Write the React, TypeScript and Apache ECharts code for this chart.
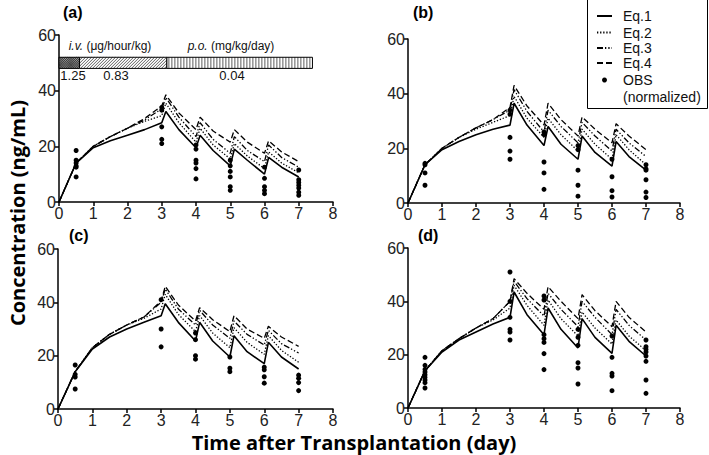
import React, { useEffect, useRef } from "react";
import * as echarts from "echarts";

// Model time grid (days)
const modelT = [0, 0.5, 1, 1.5, 2, 2.5, 3, 3.12, 3.5, 4, 4.12, 4.5, 5, 5.12, 5.5, 6, 6.12, 6.5, 7];

// Panel (a)
const eq1A = [0, 14, 19.5, 22, 24, 26, 28.5, 32.5, 26, 19.5, 24, 18.5, 13, 19, 15, 10, 16, 12.5, 9];
const eq2A = [0, 14, 20, 23.5, 26.5, 29, 31, 35.5, 28.5, 21.5, 26.5, 20.5, 15.5, 21, 16.5, 12, 18, 14, 10.5];
const eq3A = [0, 14, 20, 23.5, 26.5, 29.5, 33.5, 37.5, 30.5, 23.5, 28.5, 22.5, 17.5, 23.5, 18.5, 14.5, 20.5, 16, 12.5];
const eq4A = [0, 14, 20, 23.5, 26.5, 30, 34.5, 38.5, 32, 26, 30.5, 25.5, 21.5, 26, 21.5, 17.5, 22, 18, 14.5];
// Panel (b)
const eq1B = [0, 14, 19.5, 22.5, 25, 27, 28.5, 36.5, 28.5, 21, 28, 21.5, 16, 24.5, 18.5, 13.5, 22.5, 17, 12];
const eq2B = [0, 14, 20, 24, 27, 29.5, 32, 39, 31, 24, 31, 25, 19, 27, 21.5, 16, 25, 19.5, 14];
const eq3B = [0, 14, 20, 24, 27.5, 30.5, 34, 41.5, 33.5, 26, 34, 28, 22, 29.5, 24.5, 19, 27, 22, 17];
const eq4B = [0, 14, 20, 24, 27.5, 30.5, 35, 43, 35.5, 28.5, 36.5, 30.5, 24.5, 31.5, 27, 22, 29, 24.5, 19.5];
// Panel (c)
const eq1C = [0, 14, 22.5, 27, 30, 32.5, 35, 39.5, 32.5, 25.5, 32.5, 25.5, 19.5, 27.5, 21.5, 17, 25, 19.5, 15];
const eq2C = [0, 14, 23, 28, 31.5, 34, 37.5, 43, 35.5, 29, 35, 28.5, 23, 30.5, 25, 20.5, 27.5, 22, 17.5];
const eq3C = [0, 14, 23, 28, 31.5, 34.5, 40, 45, 37.5, 31.5, 37, 31.5, 26.5, 33, 28, 24, 29.5, 24.5, 21];
const eq4C = [0, 14, 23, 28, 31.5, 34.5, 40.5, 46, 39, 33, 38, 33.5, 29, 35, 30, 26.5, 31, 27, 23.5];
// Panel (d)
const eq1D = [0, 14, 21, 25.5, 28.5, 31.5, 34, 43.5, 35, 27.5, 37.5, 29.5, 22.5, 33.5, 26.5, 20.5, 31, 25, 19.5];
const eq2D = [0, 14, 21.5, 26, 30, 33, 37.5, 46, 38.5, 31, 40.5, 33.5, 27, 36, 30, 24, 33, 27, 21.5];
const eq3D = [0, 14, 21.5, 26, 30, 33.5, 40, 47.5, 41, 34.5, 43, 37, 30.5, 40, 34, 27.5, 37, 31, 25.5];
const eq4D = [0, 14, 21.5, 26, 30, 33.5, 40, 48.5, 43, 37, 45.5, 40, 33.5, 42.5, 36.5, 30.5, 40, 34, 28.5];

// Observations (normalized), grouped by sampling day
const obsTimes = [0.5, 3, 4, 5, 6, 7];
const obsA = [[18.5, 15, 14, 13, 12.5, 9], [34, 33, 27, 22.5, 21], [20.5, 19, 15, 14, 12, 8.3], [15, 13, 11, 9, 5.5, 4.2], [12.5, 8.5, 5.5, 4.2, 3], [11.5, 8, 7, 6, 5, 3.5, 2.4]];
const obsB = [[14.5, 14, 11, 6.5], [34, 32.5, 24, 19, 16], [26, 25, 15, 11, 5], [21, 19.5, 12, 6.5, 2.5], [16, 9.6, 4.5, 2.2], [14, 12.5, 12, 8.5, 4, 2]];
const obsC = [[16.5, 13, 12, 7.5], [41, 30, 23.3], [28.5, 26, 20, 18.7], [19.5, 15.3, 14], [15.7, 14.7, 12.1, 9.7], [12.7, 11.5, 9.9, 6.9]];
const obsD = [[19, 16, 14.5, 13.5, 12.5, 11.5, 10.5, 9.5, 7.5], [51, 40, 34, 29.5, 28.5, 25.5], [42, 40.5, 27.5, 26, 24.6, 20.4, 14.4], [29.5, 26.5, 23.5, 17, 15, 9], [27, 19, 13, 12, 6.5], [25.5, 23, 22, 21, 19.5, 17.5, 10.5, 5.5]];

// Dosing regimen bar (panel a)
const doseStart = [0, 0.6, 3.15];
const doseEnd = [0.6, 3.15, 7.4];
const dosePattern = [0, 1, 2];
const doseLabels = ["1.25", "0.83", "0.04"];

const xTicks = [0, 1, 2, 3, 4, 5, 6, 7, 8];
const yTicks = [0, 20, 40, 60];
const eqNames = ["Eq.1", "Eq.2", "Eq.3", "Eq.4"];
const panelTitles = ["(a)", "(b)", "(c)", "(d)"];

const panels = [
  { eq: [eq1A, eq2A, eq3A, eq4A], obs: obsA },
  { eq: [eq1B, eq2B, eq3B, eq4B], obs: obsB },
  { eq: [eq1C, eq2C, eq3C, eq4C], obs: obsC },
  { eq: [eq1D, eq2D, eq3D, eq4D], obs: obsD },
];

const gridBoxes = [
  { left: 59, top: 35, width: 274, height: 167 },
  { left: 408, top: 39, width: 272, height: 164 },
  { left: 58, top: 249, width: 275, height: 160 },
  { left: 408, top: 248, width: 272, height: 160 },
];

const dashTypes: any[] = ["solid", [1.3, 1.8], [6, 2, 1.3, 2, 1.3, 2], [6, 3]];
const lineWidths = [1.6, 1.3, 1.3, 1.3];
const TICK_FONT = "'Liberation Sans', Arial, sans-serif";
const TITLE_FONT = "'Open Sans', 'Noto Sans', sans-serif";

function buildOption() {
  const grid = gridBoxes.map((g) => ({ ...g, containLabel: false }));
  const axisCommon = {
    axisLine: { show: true, lineStyle: { color: "#000", width: 1.5 } },
    axisTick: { show: true, inside: false, length: 4, lineStyle: { color: "#000", width: 1.5 } },
    splitLine: { show: false },
    axisLabel: { color: "#222", fontSize: 16, fontFamily: TICK_FONT, margin: 3 },
  };
  const xAxis = gridBoxes.map((_, i) => ({
    ...axisCommon,
    type: "value",
    gridIndex: i,
    min: xTicks[0],
    max: xTicks[xTicks.length - 1],
    interval: 1,
  }));
  const yAxis = gridBoxes.map((_, i) => ({
    ...axisCommon,
    type: "value",
    gridIndex: i,
    min: yTicks[0],
    max: yTicks[yTicks.length - 1],
    interval: 20,
  }));

  const series: any[] = [];
  panels.forEach((p, pi) => {
    p.eq.forEach((vals, ei) => {
      series.push({
        type: "line",
        name: eqNames[ei],
        xAxisIndex: pi,
        yAxisIndex: pi,
        symbol: "none",
        data: modelT.map((t, k) => [t, vals[k]]),
        lineStyle: { color: "#000", width: lineWidths[ei], type: dashTypes[ei] },
        z: 3,
      });
    });
    const pts: number[][] = [];
    p.obs.forEach((arr, ti) => arr.forEach((v) => pts.push([obsTimes[ti], v])));
    series.push({
      type: "scatter",
      name: "OBS (normalized)",
      xAxisIndex: pi,
      yAxisIndex: pi,
      symbol: "circle",
      symbolSize: 5,
      itemStyle: { color: "#000", opacity: 1 },
      data: pts,
      z: 4,
    });
  });

  // dosing bar in panel (a)
  series.push({
    type: "custom",
    xAxisIndex: 0,
    yAxisIndex: 0,
    data: doseStart.map((s, i) => [s, doseEnd[i], dosePattern[i]]),
    encode: { x: [0, 1] },
    silent: true,
    z: 5,
    renderItem: (params: any, api: any) => {
      const s = api.value(0);
      const e = api.value(1);
      const kind = api.value(2);
      const tl = api.coord([s, 52]);
      const br = api.coord([e, 48]);
      const x0 = tl[0], y0 = tl[1], x1 = br[0], y1 = br[1];
      const w = x1 - x0, h = y1 - y0;
      const children: any[] = [];
      children.push({
        type: "rect",
        shape: { x: x0, y: y0, width: w, height: h },
        style: { fill: kind === 0 ? "#9a9a9a" : "#fff" },
      });
      const ls = { stroke: "#333", lineWidth: 0.8 };
      if (kind === 2) {
        for (let x = x0 + 2; x < x1 - 0.5; x += 3) {
          children.push({ type: "line", shape: { x1: x, y1: y0, x2: x, y2: y1 }, style: ls });
        }
      } else {
        const sp = kind === 0 ? 2.2 : 3;
        const dirs = kind === 0 ? [1, -1] : [1];
        dirs.forEach((d) => {
          for (let u = x0 - h; u < x1; u += sp) {
            const ca = Math.max(u, x0);
            const cb = Math.min(u + h, x1);
            if (cb <= ca) continue;
            const yAt = (x: number) => (d === 1 ? y1 - (x - u) : y0 + (x - u));
            children.push({ type: "line", shape: { x1: ca, y1: yAt(ca), x2: cb, y2: yAt(cb) }, style: ls });
          }
        });
      }
      children.push({
        type: "rect",
        shape: { x: x0, y: y0, width: w, height: h },
        style: { fill: "none", stroke: "#000", lineWidth: 1 },
      });
      return { type: "group", children };
    },
  });

  const graphic: any[] = [];
  const titlePos = [
    [63, 12],
    [413, 12],
    [69, 235],
    [418, 235],
  ];
  panelTitles.forEach((t, i) => {
    graphic.push({
      type: "text",
      x: titlePos[i][0],
      y: titlePos[i][1],
      style: { text: t, fontSize: 16, fontWeight: "bold", fontFamily: TICK_FONT, fill: "#000", verticalAlign: "middle" },
    });
  });
  // dose regimen labels
  const richIt = { it: { fontStyle: "italic", fontSize: 12, fontFamily: TICK_FONT, fill: "#111" } };
  graphic.push({
    type: "text",
    x: 110,
    y: 46,
    style: {
      text: "{it|i.v.} (μg/hour/kg)",
      textAlign: "center",
      verticalAlign: "middle",
      fontSize: 12,
      fontFamily: TICK_FONT,
      fill: "#111",
      rich: richIt,
    },
  });
  graphic.push({
    type: "text",
    x: 231,
    y: 46,
    style: {
      text: "{it|p.o.} (mg/kg/day)",
      textAlign: "center",
      verticalAlign: "middle",
      fontSize: 12,
      fontFamily: TICK_FONT,
      fill: "#111",
      rich: richIt,
    },
  });
  const doseLabelX = [73, 116, 232];
  doseLabels.forEach((l, i) => {
    graphic.push({
      type: "text",
      x: doseLabelX[i],
      y: 75,
      style: { text: l, textAlign: "center", verticalAlign: "middle", fontSize: 13, fontFamily: TICK_FONT, fill: "#111" },
    });
  });

  // legend box
  graphic.push({
    type: "rect",
    shape: { x: 587.5, y: -0.5, width: 120, height: 109 },
    style: { fill: "#fff", stroke: "#000", lineWidth: 1 },
    z: 10,
  });
  const legY = [16, 32.5, 48, 63];
  eqNames.forEach((n, i) => {
    graphic.push({
      type: "line",
      shape: { x1: 597, y1: legY[i], x2: 612, y2: legY[i] },
      style: { stroke: "#000", lineWidth: 2, lineDash: dashTypes[i] === "solid" ? null : dashTypes[i] },
      z: 11,
    });
    graphic.push({
      type: "text",
      x: 623,
      y: legY[i],
      style: { text: n, fontSize: 14, fontFamily: TICK_FONT, fill: "#111", verticalAlign: "middle" },
      z: 11,
    });
  });
  graphic.push({ type: "circle", shape: { cx: 604.5, cy: 80, r: 2.5 }, style: { fill: "#000" }, z: 11 });
  graphic.push({
    type: "text",
    x: 623,
    y: 80,
    style: { text: "OBS", fontSize: 14, fontFamily: TICK_FONT, fill: "#111", verticalAlign: "middle" },
    z: 11,
  });
  graphic.push({
    type: "text",
    x: 623,
    y: 96.5,
    style: { text: "(normalized)", fontSize: 14, fontFamily: TICK_FONT, fill: "#111", verticalAlign: "middle" },
    z: 11,
  });

  // axis titles
  graphic.push({
    type: "text",
    x: 17,
    y: 213,
    rotation: Math.PI / 2,
    style: {
      text: "Concentration (ng/mL)",
      fontSize: 20,
      fontWeight: "bold",
      fontFamily: TITLE_FONT,
      fill: "#000",
      textAlign: "center",
      verticalAlign: "middle",
    },
  });
  graphic.push({
    type: "text",
    x: 354,
    y: 442,
    style: {
      text: "Time after Transplantation (day)",
      fontSize: 20,
      fontWeight: "bold",
      fontFamily: TITLE_FONT,
      fill: "#000",
      textAlign: "center",
      verticalAlign: "middle",
    },
  });

  return {
    animation: false,
    backgroundColor: "#fff",
    grid,
    xAxis,
    yAxis,
    series,
    graphic,
  };
}

export default function App() {
  const ref = useRef<HTMLDivElement>(null);
  useEffect(() => {
    if (!ref.current) return;
    const chart = echarts.init(ref.current, undefined, { renderer: "svg" });
    chart.setOption(buildOption() as any);
    return () => chart.dispose();
  }, []);
  return <div ref={ref} style={{ position: "fixed", left: 0, top: 0, width: 709, height: 455 }} />;
}
